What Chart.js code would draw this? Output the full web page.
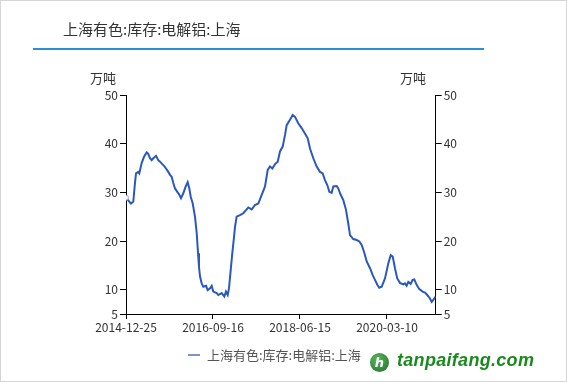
<!DOCTYPE html>
<html><head><meta charset="utf-8">
<script src="https://cdn.jsdelivr.net/npm/chart.js@4"></script>
<style>
html,body{margin:0;padding:0;background:#fff;}
#wrap{position:relative;width:567px;height:382px;overflow:hidden;font-family:"Noto Sans CJK SC","Microsoft YaHei",sans-serif;}
#border{position:absolute;left:0;top:0;width:567px;height:382px;box-sizing:border-box;border:1px solid #d6d6d6;pointer-events:none;}
#title{position:absolute;left:63px;top:19px;font-size:15px;line-height:20px;color:#333;white-space:nowrap;}
#bar{position:absolute;left:33px;top:48px;width:451px;height:2px;background:#2b8fd8;}
.unit{position:absolute;top:69px;font-size:13px;line-height:18px;color:#333;}
#legend{position:absolute;left:188px;top:346px;font-size:13px;line-height:18px;color:#555;white-space:nowrap;}
#legend span.ln{display:inline-block;width:12px;height:2px;background:#7e95c6;vertical-align:middle;margin-right:7px;position:relative;top:-1px;}
#wm{position:absolute;left:370px;top:352px;white-space:nowrap;}
#logo{position:absolute;left:0;top:1px;width:19px;height:19px;border-radius:50%;background:radial-gradient(circle at 40% 35%,#5cb85c,#1d6b2a);color:#fff;font:bold italic 13px "DejaVu Sans",sans-serif;text-align:center;line-height:19px;}
#wmt{position:absolute;left:27px;top:-2px;font:bold italic 18px "Liberation Sans",Arial,sans-serif;color:#1b8a1e;letter-spacing:0.3px;}
canvas{position:absolute;left:0;top:0;}
</style></head>
<body>
<div id="wrap">
<canvas id="c" width="567" height="382"></canvas>
<div id="title">上海有色:库存:电解铝:上海</div>
<div id="bar"></div>
<div class="unit" style="left:90px">万吨</div>
<div class="unit" style="left:400px">万吨</div>
<div id="legend"><span class="ln"></span>上海有色:库存:电解铝:上海</div>
<div id="wm"><div id="logo">h</div><div id="wmt">tanpaifang.com</div></div>
<div id="border"></div>
</div>
<script>
const tickDates = ['2014-12-25','2016-09-16','2018-06-15','2020-03-10'];
const tickPos = [0,100,200,300];
const yTicks = [5,10,20,30,40,50];
const xPos = [0,5.7,8.4,10.3,11.5,14.1,15.3,18.0,20.7,23.8,25.6,27.6,29.5,31.4,34.5,37.1,39.1,41.7,44.0,46.0,48.6,50.6,52.5,54.4,56.3,59.0,61.3,63.2,65.9,68.6,70.9,72.8,74.4,76.7,79.3,81.3,82.8,83.9,85.1,87.0,88.9,92.0,93.9,96.6,98.5,100.3,104.3,106.1,110.0,113.0,114.9,116.9,118.4,120.7,122.2,123.8,125.3,127.2,131.0,134.8,138.7,140.6,144.5,148.3,152.1,156.0,159.8,162.9,165.5,168.2,171.3,174.4,177.0,180.1,182.8,184.7,188.5,191.6,194.3,198.0,201.9,205.7,208.9,211.5,215.3,219.2,223.0,226.1,228.7,231.4,233.7,236.4,238.3,242.2,244.0,246.8,249.8,252.9,255.5,257.5,261.3,265.2,268.2,270.9,273.6,276.7,280.5,283.6,286.2,288.9,291.1,293.9,297.7,301.5,304.3,306.6,309.2,311.8,314.9,318.7,320.7,322.6,324.5,327.2,329.5,331.4,334.1,337.1,341.0,343.7,346.3,349.4,351.4,353.2,356];
const stock = [28.9,27.7,28.1,31.9,33.9,34.2,33.9,36.0,37.3,38.2,37.9,37.0,36.6,37.0,37.5,36.6,36.3,35.8,35.4,34.9,34.2,33.6,33.2,31.9,30.8,30.1,29.5,28.8,29.8,31.2,32.1,30.8,29.1,27.7,25.0,21.6,17.5,14.7,12.7,11.3,10.6,10.8,9.9,10.3,10.8,9.6,9.3,8.9,9.3,8.6,9.6,8.9,10.3,14.7,17.5,20.2,22.9,25.0,25.3,25.7,26.5,26.9,26.5,27.4,27.7,29.5,31.2,34.6,35.3,34.9,35.8,36.3,38.4,39.4,41.8,43.8,44.9,45.9,45.5,44.2,43.2,42.1,41.1,39.0,37.0,35.3,34.2,33.9,32.5,31.5,30.1,29.9,31.2,31.3,30.8,29.5,28.4,26.4,23.6,21.2,20.4,20.2,19.9,19.2,17.8,15.8,14.4,13.0,12.0,11.0,10.4,10.6,12.3,15.4,17.1,16.8,14.4,12.3,11.4,11.1,11.3,10.8,11.6,11.2,12.0,12.1,11.0,10.1,9.6,9.4,8.9,8.2,7.5,7.9,8.6];

const points = xPos.map((x,i)=>({x:x,y:stock[i]}));
const tickFont = {family:'"Noto Sans CJK SC","Microsoft YaHei",sans-serif', size:12};
function yAxis(pos){
  return {
    type:'linear', position:pos, min:5, max:50,
    afterBuildTicks:s=>{ s.ticks = yTicks.map(v=>({value:v})); },
    afterFit:s=>{ s.width = 40; },
    grid:{display:true, drawOnChartArea:false, tickLength:6, color:'#000', lineWidth:1},
    border:{display:true, color:'#000', width:1},
    ticks:{color:'#333', font:tickFont, padding:2}
  };
}
new Chart(document.getElementById('c'), {
  type:'line',
  data:{datasets:[{
    label:'上海有色:库存:电解铝:上海',
    data:points,
    borderColor:'#2a58bd',
    borderWidth:2,
    tension:0,
    pointRadius:points.map((p,i)=>i===0?2.5:0),
    pointBackgroundColor:'#fff',
    pointBorderColor:'#8aa7d8',
    pointBorderWidth:1,
    yAxisID:'y'
  }]},
  options:{
    responsive:false, animation:false,
    layout:{padding:{left:86, right:91.3, top:95, bottom:48}},
    plugins:{legend:{display:false}, tooltip:{enabled:false}},
    scales:{
      x:{
        type:'linear', position:'bottom', min:0, max:356,
        afterBuildTicks:s=>{ s.ticks = tickPos.map(v=>({value:v})); },
        afterFit:s=>{ s.height = 20; },
        grid:{display:true, drawOnChartArea:false, tickLength:5, color:'#000', lineWidth:1},
        border:{display:true, color:'#000', width:1},
        ticks:{color:'#333', font:tickFont, padding:1, autoSkip:false, maxRotation:0,
          callback:(v)=>tickDates[tickPos.indexOf(v)]}
      },
      y:yAxis('left'),
      y2:yAxis('right')
    }
  }
});
</script>
</body></html>
